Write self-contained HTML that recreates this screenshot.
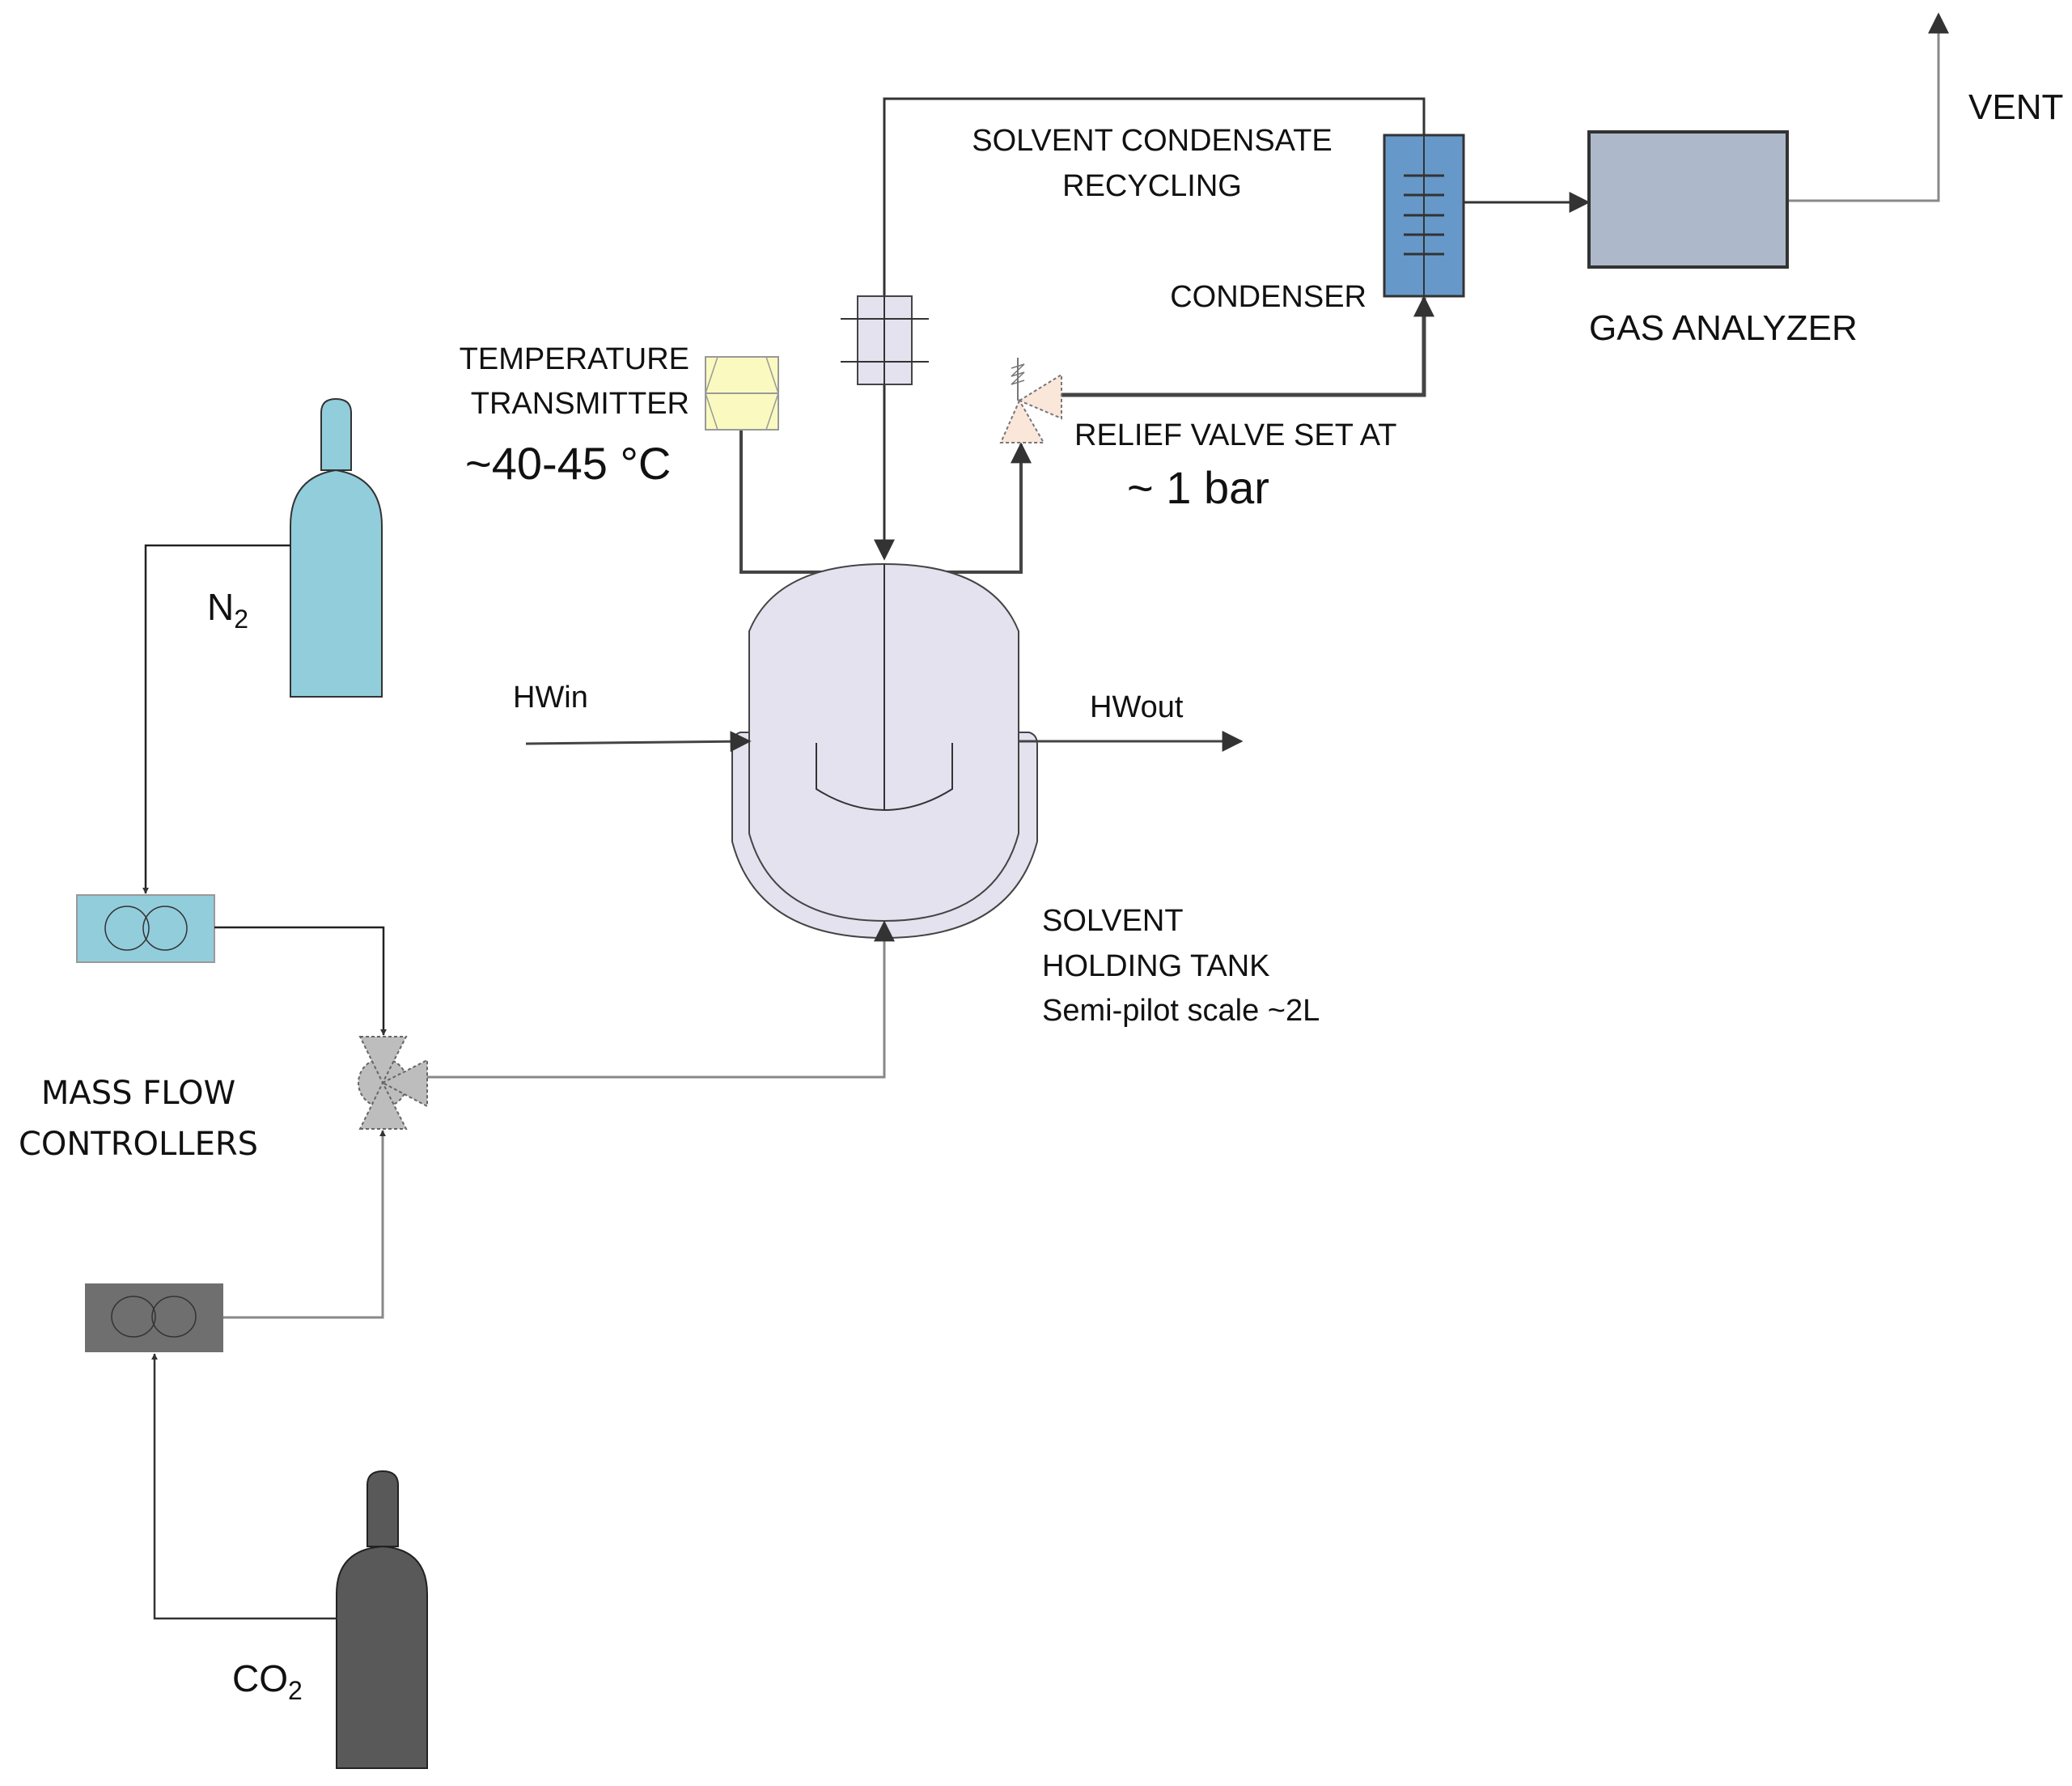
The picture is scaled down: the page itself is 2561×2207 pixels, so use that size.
<!DOCTYPE html>
<html><head><meta charset="utf-8"><style>
html,body{margin:0;padding:0;background:#fff}
svg{display:block}
text{font-family:"Liberation Sans",sans-serif;fill:#111}
</style></head><body>
<svg width="2561" height="2207" viewBox="0 0 2561 2207" xmlns="http://www.w3.org/2000/svg">
<defs>
<marker id="ah" viewBox="0 0 10 10" refX="9" refY="5" markerWidth="8" markerHeight="8" markerUnits="userSpaceOnUse" orient="auto"><path d="M0,0L10,5L0,10z" fill="#333"/></marker>
<marker id="ahb" viewBox="0 0 10 10" refX="9" refY="5" markerWidth="26" markerHeight="26" markerUnits="userSpaceOnUse" orient="auto"><path d="M0,0L10,5L0,10z" fill="#333"/></marker>
</defs>
<!-- transmitter line (behind vessel) -->
<polyline points="916,531 916,707 1262,707 1262,549" fill="none" stroke="#444" stroke-width="4" marker-end="url(#ahb)"/>
<!-- vessel jacket -->
<path d="M905,920 Q905,908 915,905 L1272,905 Q1282,908 1282,920 L1282,1040 Q1250,1159 1093,1159 Q936,1159 905,1040 Z" fill="#e4e2ee" stroke="#444" stroke-width="2"/>
<!-- vessel body -->
<path d="M926,780 Q960,697 1093,697 Q1226,697 1259,780 L1259,1030 Q1230,1138 1093,1138 Q956,1138 926,1030 Z" fill="#e4e2ee" stroke="#444" stroke-width="2"/>
<line x1="1093" y1="697" x2="1093" y2="1001" stroke="#333" stroke-width="2"/>
<path d="M1009,918 L1009,975 Q1050,1001 1093,1001 Q1136,1001 1177,975 L1177,918" fill="none" stroke="#333" stroke-width="2"/>
<g fill="none" stroke-linejoin="miter">
<polyline points="1760,167 1760,122 1093,122 1093,690" stroke="#333" stroke-width="3" marker-end="url(#ahb)"/>
<line x1="1809" y1="250" x2="1963" y2="250" stroke="#333" stroke-width="3" marker-end="url(#ahb)"/>
<polyline points="2209,248 2396,248 2396,18" stroke="#888" stroke-width="3" marker-end="url(#ahb)"/>
<polyline points="1312,488 1760,488 1760,368" stroke="#444" stroke-width="5" marker-end="url(#ahb)"/>
<line x1="650" y1="919" x2="926" y2="916" stroke="#444" stroke-width="3" marker-end="url(#ahb)"/>
<line x1="1259" y1="916" x2="1534" y2="916" stroke="#444" stroke-width="3" marker-end="url(#ahb)"/>
</g>
<polyline points="528,1331 1093,1331 1093,1140" fill="none" stroke="#888" stroke-width="3" marker-end="url(#ahb)"/>
<rect x="1060" y="366" width="67" height="109" fill="#e4e2ee" stroke="#444" stroke-width="2"/>
<line x1="1039" y1="394" x2="1148" y2="394" stroke="#333" stroke-width="2"/>
<line x1="1039" y1="447" x2="1148" y2="447" stroke="#333" stroke-width="2"/>
<line x1="1093" y1="366" x2="1093" y2="475" stroke="#333" stroke-width="2"/>
<rect x="1711" y="167" width="98" height="199" fill="#6699c9" stroke="#333" stroke-width="3"/>
<g stroke="#333" stroke-width="3">
<line x1="1735" y1="217" x2="1785" y2="217"/><line x1="1735" y1="241" x2="1785" y2="241"/>
<line x1="1735" y1="266" x2="1785" y2="266"/><line x1="1735" y1="290" x2="1785" y2="290"/>
<line x1="1735" y1="314" x2="1785" y2="314"/>
</g>
<line x1="1760" y1="167" x2="1760" y2="366" stroke="#333" stroke-width="2"/>
<rect x="1964" y="163" width="245" height="167" fill="#adb9ca" stroke="#333" stroke-width="4"/>
<rect x="872" y="441" width="90" height="90" fill="#fafac0" stroke="#999" stroke-width="2"/>
<line x1="872" y1="486" x2="962" y2="486" stroke="#999" stroke-width="2"/>
<polygon points="887,441 947,441 962,486 947,531 887,531 872,486" fill="none" stroke="#999" stroke-width="1.5"/>
<polygon points="1260,495 1312,463 1312,517" fill="#fbe6da" stroke="#777" stroke-width="2" stroke-dasharray="4,3"/>
<polygon points="1260,495 1237,547 1290,547" fill="#fbe6da" stroke="#777" stroke-width="2" stroke-dasharray="4,3"/>
<polyline points="1258,495 1258,442" stroke="#777" stroke-width="2" fill="none"/>
<polyline points="1250,455 1266,450 1250,465 1266,460 1250,475 1266,470" stroke="#777" stroke-width="1.5" fill="none"/>
<path d="M397,581 L397,510 Q397,493 415,493 Q434,493 434,510 L434,581 Z" fill="#92cddc" stroke="#333" stroke-width="2"/>
<path d="M359,861 L359,650 Q359,590 415,581 Q472,590 472,650 L472,861 Z" fill="#92cddc" stroke="#333" stroke-width="2"/>
<polyline points="359,674 180,674 180,1104" fill="none" stroke="#222" stroke-width="2.5" marker-end="url(#ah)"/>
<rect x="95" y="1106" width="170" height="83" fill="#92cddc" stroke="#999" stroke-width="2"/>
<ellipse cx="157" cy="1147" rx="27" ry="27" fill="none" stroke="#333" stroke-width="1.5"/>
<ellipse cx="204" cy="1147" rx="27" ry="27" fill="none" stroke="#333" stroke-width="1.5"/>
<polyline points="265,1146 474,1146 474,1279" fill="none" stroke="#222" stroke-width="2.5" marker-end="url(#ah)"/>
<rect x="105" y="1586" width="171" height="85" fill="#6f6f6f"/>
<ellipse cx="165" cy="1627" rx="27" ry="25" fill="none" stroke="#333" stroke-width="1.5"/>
<ellipse cx="215" cy="1627" rx="27" ry="25" fill="none" stroke="#333" stroke-width="1.5"/>
<polyline points="276,1628 473,1628 473,1397" fill="none" stroke="#888" stroke-width="3" marker-end="url(#ah)"/>
<path d="M454,1911 L454,1835 Q454,1818 473,1818 Q492,1818 492,1835 L492,1911 Z" fill="#595959" stroke="#222" stroke-width="2"/>
<path d="M416,2185 L416,1970 Q416,1915 473,1911 Q528,1915 528,1970 L528,2185 Z" fill="#595959" stroke="#222" stroke-width="2"/>
<polyline points="416,2000 191,2000 191,1673" fill="none" stroke="#333" stroke-width="2.5" marker-end="url(#ah)"/>
<g fill="#bdbdbd" stroke="#666" stroke-width="2" stroke-dasharray="4,3">
<circle cx="473" cy="1338" r="30"/>
<polygon points="445,1281 502,1281 473,1338"/>
<polygon points="445,1395 502,1395 473,1338"/>
<polygon points="473,1338 528,1310 528,1367"/>
</g>
<text x="1424" y="186" font-size="38" text-anchor="middle">SOLVENT CONDENSATE</text>
<text x="1424" y="242" font-size="38" text-anchor="middle">RECYCLING</text>
<text x="1689" y="379" font-size="38" text-anchor="end">CONDENSER</text>
<text x="1964" y="420" font-size="44">GAS ANALYZER</text>
<text x="2433" y="147" font-size="44">VENT</text>
<text x="852" y="456" font-size="38" text-anchor="end">TEMPERATURE</text>
<text x="852" y="511" font-size="38" text-anchor="end">TRANSMITTER</text>
<text x="575" y="592" font-size="56">~40-45 °C</text>
<text x="1328" y="550" font-size="38">RELIEF VALVE SET AT</text>
<text x="1393" y="622" font-size="56">~ 1 bar</text>
<text x="634" y="874" font-size="38">HWin</text>
<text x="1347" y="886" font-size="38">HWout</text>
<text x="1288" y="1150" font-size="38">SOLVENT</text>
<text x="1288" y="1206" font-size="38">HOLDING TANK</text>
<text x="1288" y="1261" font-size="38">Semi-pilot scale ~2L</text>
<text x="256" y="766" font-size="46">N<tspan font-size="32" dy="10">2</tspan></text>
<text x="287" y="2090" font-size="46">CO<tspan font-size="32" dy="10">2</tspan></text>
<text x="171" y="1364" font-size="40" text-anchor="middle" style="font-family:'DejaVu Sans',sans-serif">MASS FLOW</text>
<text x="171" y="1427" font-size="40" text-anchor="middle" style="font-family:'DejaVu Sans',sans-serif">CONTROLLERS</text>
</svg>
</body></html>
